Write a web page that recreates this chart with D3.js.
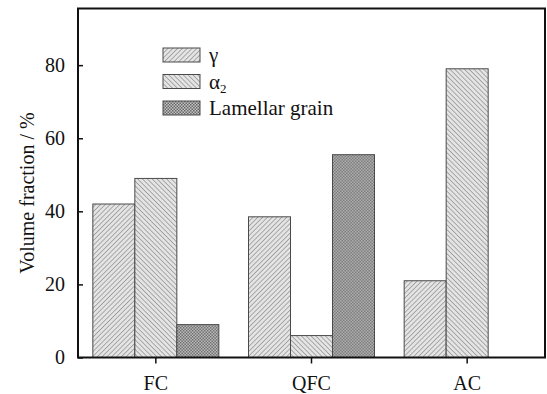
<!DOCTYPE html>
<html>
<head>
<meta charset="utf-8">
<script src="https://cdn.jsdelivr.net/npm/d3@7"></script>
<style>
  html, body { margin: 0; padding: 0; background: #fff; }
  svg { display: block; }
  text { font-family: "Liberation Serif", "Times New Roman", serif; fill: #111; }
</style>
</head>
<body>
<svg id="chart" width="547" height="394"></svg>
<script>
// Cooling conditions and phase volume fractions (%)
const categories = ["FC", "QFC", "AC"];
const seriesNames = ["γ", "α2", "Lamellar grain"];
const gammaValues = [42, 38.5, 21];
const alpha2Values = [49, 6, 79];
const lamellarValues = [9, 55.5, 0];
const yTicks = [0, 20, 40, 60, 80];

const seriesValues = [gammaValues, alpha2Values, lamellarValues];

const svg = d3.select("#chart");
const frame = { left: 78, right: 545, top: 8.5, bottom: 357.5 };

// Hatch fills
const defs = svg.append("defs");
function hatch(id, angle, bg, line, gap) {
  const p = defs.append("pattern")
    .attr("id", id).attr("patternUnits", "userSpaceOnUse")
    .attr("width", gap).attr("height", gap)
    .attr("patternTransform", `rotate(${angle})`);
  p.append("rect").attr("width", gap).attr("height", gap).attr("fill", bg);
  p.append("line").attr("x1", 0).attr("y1", 0).attr("x2", 0).attr("y2", gap)
    .attr("stroke", line).attr("stroke-width", 1.2);
}
hatch("pGamma", 45, "#e4e4e4", "#808080", 3.4);
hatch("pAlpha", -45, "#e4e4e4", "#808080", 3.4);
const cp = defs.append("pattern").attr("id", "pLam")
  .attr("patternUnits", "userSpaceOnUse").attr("width", 3).attr("height", 3);
cp.append("rect").attr("width", 3).attr("height", 3).attr("fill", "#c4c4c4");
cp.append("rect").attr("width", 1.5).attr("height", 1.5).attr("fill", "#666");
cp.append("rect").attr("x", 1.5).attr("y", 1.5).attr("width", 1.5).attr("height", 1.5).attr("fill", "#666");
const fills = ["url(#pGamma)", "url(#pAlpha)", "url(#pLam)"];

const x = d3.scaleBand().domain(categories).range([frame.left, frame.right]).padding(0);
const x1 = d3.scaleBand().domain(d3.range(seriesNames.length))
  .range([0, 126]);
const y = d3.scaleLinear().domain([0, 95.5]).range([frame.bottom, frame.top]);

// Bars
const groups = svg.append("g").selectAll("g").data(categories).join("g")
  .attr("transform", d => `translate(${x(d) + x.bandwidth() / 2 - 63},0)`);
groups.selectAll("rect")
  .data((c, ci) => seriesValues.map((vals, si) => ({ si, v: vals[ci] })).filter(d => d.v > 0))
  .join("rect")
  .attr("x", d => x1(d.si))
  .attr("width", x1.bandwidth())
  .attr("y", d => y(d.v))
  .attr("height", d => y(0) - y(d.v))
  .attr("fill", d => fills[d.si])
  .attr("stroke", "#4a4a4a")
  .attr("stroke-width", 1);

// Axes
const yAxis = d3.axisLeft(y).tickValues(yTicks).tickSizeInner(-5).tickSizeOuter(0).tickPadding(13);
const gy = svg.append("g").attr("transform", `translate(${frame.left},0)`).call(yAxis);
gy.select(".domain").remove();
gy.selectAll("line").attr("stroke", "#111").attr("stroke-width", 1.5);
gy.selectAll("text").style("font-size", "20px").attr("fill", "#111");

const xAxis = d3.axisBottom(x).tickSizeInner(6).tickSizeOuter(0).tickPadding(12);
const gx = svg.append("g").attr("transform", `translate(0,${frame.bottom})`).call(xAxis);
gx.select(".domain").remove();
gx.selectAll("line").attr("stroke", "#111").attr("stroke-width", 1.5);
gx.selectAll("text").style("font-size", "20px").attr("fill", "#111");

// Plot frame
svg.append("rect")
  .attr("x", frame.left).attr("y", frame.top)
  .attr("width", frame.right - frame.left).attr("height", frame.bottom - frame.top)
  .attr("fill", "none").attr("stroke", "#111").attr("stroke-width", 2);

// Y axis title
svg.append("text")
  .attr("transform", `translate(34,193) rotate(-90)`)
  .attr("text-anchor", "middle")
  .style("font-size", "20px")
  .text("Volume fraction / %");

// Legend
const legend = svg.append("g").attr("transform", "translate(163,48)");
const li = legend.selectAll("g").data(seriesNames).join("g")
  .attr("transform", (d, i) => `translate(0,${i * 26.5})`);
li.append("rect").attr("width", 37).attr("height", 14)
  .attr("fill", (d, i) => fills[i]).attr("stroke", "#4a4a4a").attr("stroke-width", 1);
li.append("text").attr("x", 46).attr("y", 14).style("font-size", "21px")
  .each(function (d) {
    const t = d3.select(this);
    if (d === "α2") {
      t.append("tspan").text("α");
      t.append("tspan").attr("dy", 4).style("font-size", "13px").text("2");
    } else {
      t.text(d);
    }
  });
</script>
</body>
</html>
